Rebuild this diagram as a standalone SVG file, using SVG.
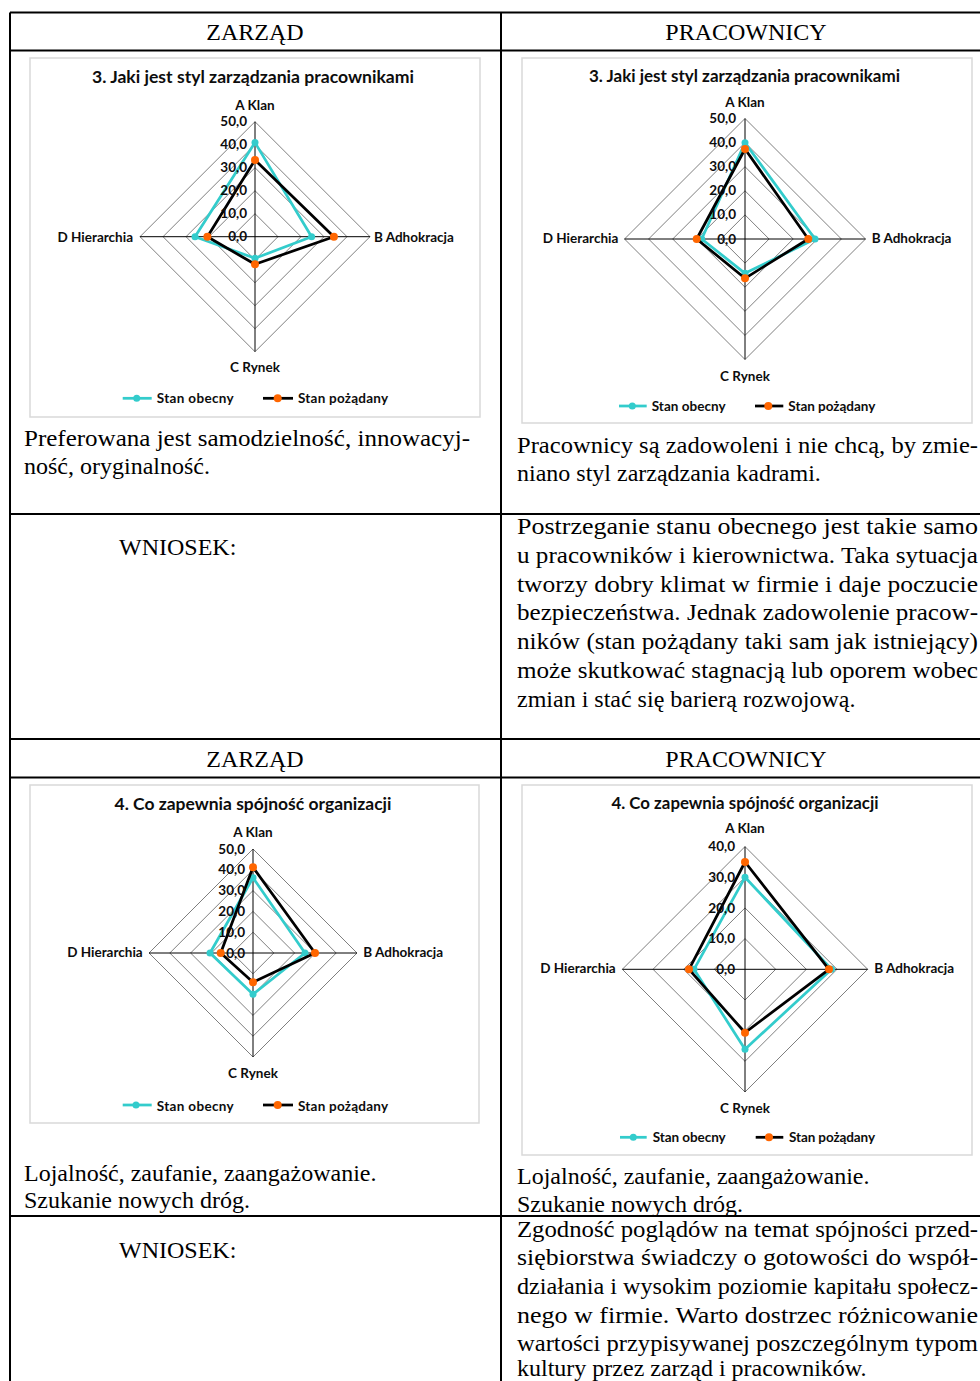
<svg xmlns="http://www.w3.org/2000/svg" width="980" height="1381" viewBox="0 0 980 1381">
<style>
.bg{fill:#fff}
.tl{stroke:#000;stroke-width:2;fill:none}
.tx{font-family:"Liberation Serif","Times New Roman",serif;font-size:24px;fill:#000}
.box{fill:#fff;stroke:#d9d9d9;stroke-width:1.5}
.ring{fill:none;stroke:#7f7f7f;stroke-width:1}
.spoke{fill:none;stroke:#000;stroke-width:1}
.s1{fill:none;stroke:#33cccc;stroke-width:2.75;stroke-linejoin:round}
.s2{fill:none;stroke:#000;stroke-width:2.75;stroke-linejoin:round}
.m1{fill:#33cccc}
.m2{fill:#ff6600}
.ct{font-family:Lato,"Liberation Sans",sans-serif;font-weight:bold;fill:#0d0d0d}
.ttl{font-size:17px}
.lab{font-size:13.5px}
.tk{font-size:13.5px;text-anchor:end}
.lg{font-size:13.5px}
.mid{text-anchor:middle}
.end{text-anchor:end}
</style>
<rect class="bg" x="0" y="0" width="980" height="1381"/>

<g id="table-lines">
<path class="tl" d="M10,12.5H980M10,50.5H980M10,514H980M10,739H980M10,777.5H980M10,1216H980M10,12.5V1381M501,12.5V1381"/>
</g>

<g id="header-1">
<text class="tx mid" x="255" y="40">ZARZĄD</text>
<text class="tx mid" x="746" y="40">PRACOWNICY</text>
</g>

<g id="chart-1">
<rect class="box" x="30" y="58" width="450" height="359"/>
<text class="ct ttl mid" x="253" y="83" textLength="322" lengthAdjust="spacingAndGlyphs">3. Jaki jest styl zarządzania pracownikami</text>
<polygon class="ring" points="255,213.7 278,236.7 255,259.7 232,236.7"/>
<polygon class="ring" points="255,190.7 301,236.7 255,282.7 209,236.7"/>
<polygon class="ring" points="255,167.7 324,236.7 255,305.7 186,236.7"/>
<polygon class="ring" points="255,144.7 347,236.7 255,328.7 163,236.7"/>
<polygon class="ring" points="255,121.7 370,236.7 255,351.7 140,236.7"/>
<path class="spoke" d="M255,121.7V351.7M140,236.7H370"/>
<polygon class="s1" points="255,142.6 311.6,236.7 255,258.3 195,236.7"/>
<g class="m1"><circle cx="255" cy="142.6" r="3.5"/><circle cx="311.6" cy="236.7" r="3.5"/><circle cx="255" cy="258.3" r="3.5"/><circle cx="195" cy="236.7" r="3.5"/></g>
<polygon class="s2" points="255,160.1 333.9,236.7 255,264.3 207.4,236.7"/>
<g class="m2"><circle cx="255" cy="160.1" r="4"/><circle cx="333.9" cy="236.7" r="4"/><circle cx="255" cy="264.3" r="4"/><circle cx="207.4" cy="236.7" r="4"/></g>
<text class="ct tk" x="247" y="241.2">0,0</text>
<text class="ct tk" x="247" y="218.2">10,0</text>
<text class="ct tk" x="247" y="195.2">20,0</text>
<text class="ct tk" x="247" y="172.2">30,0</text>
<text class="ct tk" x="247" y="149.2">40,0</text>
<text class="ct tk" x="247" y="126.2">50,0</text>
<text class="ct lab mid" x="255" y="110">A Klan</text>
<text class="ct lab" x="374" y="241.7">B Adhokracja</text>
<text class="ct lab mid" x="255" y="371.7">C Rynek</text>
<text class="ct lab end" x="133" y="241.7">D Hierarchia</text>
<path class="s1" d="M122.7,398.3H151.7"/><circle class="m1" cx="136.7" cy="398.3" r="3.5"/>
<text class="ct lg" x="156.7" y="403.3" textLength="77">Stan obecny</text>
<path class="s2" d="M263,398.3H293"/><circle class="m2" cx="277.7" cy="398.3" r="4"/>
<text class="ct lg" x="298" y="403.3" textLength="90">Stan pożądany</text>
</g>

<g id="chart-2">
<rect class="box" x="522" y="58" width="450" height="365"/>
<text class="ct ttl mid" x="744.5" y="81.7" textLength="311" lengthAdjust="spacingAndGlyphs">3. Jaki jest styl zarządzania pracownikami</text>
<polygon class="ring" points="745,214.9 769.1,239 745,263.1 720.9,239"/>
<polygon class="ring" points="745,190.8 793.2,239 745,287.2 696.8,239"/>
<polygon class="ring" points="745,166.7 817.3,239 745,311.3 672.7,239"/>
<polygon class="ring" points="745,142.6 841.4,239 745,335.4 648.6,239"/>
<polygon class="ring" points="745,118.5 865.5,239 745,359.5 624.5,239"/>
<path class="spoke" d="M745,118.5V359.5M624.5,239H865.5"/>
<polygon class="s1" points="745,142.7 815,239 745,273.3 701.7,239"/>
<g class="m1"><circle cx="745" cy="142.7" r="3.5"/><circle cx="815" cy="239" r="3.5"/><circle cx="745" cy="273.3" r="3.5"/><circle cx="701.7" cy="239" r="3.5"/></g>
<polygon class="s2" points="745,149 808.3,239 745,278.3 696.7,239"/>
<g class="m2"><circle cx="745" cy="149" r="4"/><circle cx="808.3" cy="239" r="4"/><circle cx="745" cy="278.3" r="4"/><circle cx="696.7" cy="239" r="4"/></g>
<text class="ct tk" x="736" y="243.5">0,0</text>
<text class="ct tk" x="736" y="219.4">10,0</text>
<text class="ct tk" x="736" y="195.3">20,0</text>
<text class="ct tk" x="736" y="171.2">30,0</text>
<text class="ct tk" x="736" y="147.1">40,0</text>
<text class="ct tk" x="736" y="123">50,0</text>
<text class="ct lab mid" x="745" y="106.7">A Klan</text>
<text class="ct lab" x="871.7" y="243">B Adhokracja</text>
<text class="ct lab mid" x="745" y="381">C Rynek</text>
<text class="ct lab end" x="618.3" y="243">D Hierarchia</text>
<path class="s1" d="M619,406H646.7"/><circle class="m1" cx="632.3" cy="406" r="3.5"/>
<text class="ct lg" x="651.7" y="411" textLength="74">Stan obecny</text>
<path class="s2" d="M755,406H783.3"/><circle class="m2" cx="768.3" cy="406" r="4"/>
<text class="ct lg" x="788.3" y="411" textLength="87">Stan pożądany</text>
</g>

<g id="row-2-text">
<text class="tx" x="24" y="446" textLength="446" lengthAdjust="spacingAndGlyphs">Preferowana jest samodzielność, innowacyj-</text>
<text class="tx" x="24" y="474">ność, oryginalność.</text>
<text class="tx" x="517" y="453" textLength="461" lengthAdjust="spacingAndGlyphs">Pracownicy są zadowoleni i nie chcą, by zmie-</text>
<text class="tx" x="517" y="481">niano styl zarządzania kadrami.</text>
</g>

<g id="row-3-text">
<text class="tx" x="119" y="555">WNIOSEK:</text>
<text class="tx" x="517" y="534" textLength="461" lengthAdjust="spacingAndGlyphs">Postrzeganie stanu obecnego jest takie samo</text>
<text class="tx" x="517" y="563" textLength="461" lengthAdjust="spacingAndGlyphs">u pracowników i kierownictwa. Taka sytuacja</text>
<text class="tx" x="517" y="592" textLength="461" lengthAdjust="spacingAndGlyphs">tworzy dobry klimat w firmie i daje poczucie</text>
<text class="tx" x="517" y="620" textLength="461" lengthAdjust="spacingAndGlyphs">bezpieczeństwa. Jednak zadowolenie pracow-</text>
<text class="tx" x="517" y="649" textLength="461" lengthAdjust="spacingAndGlyphs">ników (stan pożądany taki sam jak istniejący)</text>
<text class="tx" x="517" y="678" textLength="461" lengthAdjust="spacingAndGlyphs">może skutkować stagnacją lub oporem wobec</text>
<text class="tx" x="517" y="707">zmian i stać się barierą rozwojową.</text>
</g>

<g id="header-2">
<text class="tx mid" x="255" y="767">ZARZĄD</text>
<text class="tx mid" x="746" y="767">PRACOWNICY</text>
</g>

<g id="chart-3">
<rect class="box" x="30" y="785" width="449" height="338"/>
<text class="ct ttl mid" x="253" y="810" textLength="277" lengthAdjust="spacingAndGlyphs">4. Co zapewnia spójność organizacji</text>
<polygon class="ring" points="253,932.2 273.8,953 253,973.8 232.2,953"/>
<polygon class="ring" points="253,911.4 294.6,953 253,994.6 211.4,953"/>
<polygon class="ring" points="253,890.6 315.4,953 253,1015.4 190.6,953"/>
<polygon class="ring" points="253,869.8 336.2,953 253,1036.2 169.8,953"/>
<polygon class="ring" points="253,849 357,953 253,1057 149,953"/>
<path class="spoke" d="M253,849V1057M149,953H357"/>
<polygon class="s1" points="253,877.7 305,953 253,994.3 210,953"/>
<g class="m1"><circle cx="253" cy="877.7" r="3.5"/><circle cx="305" cy="953" r="3.5"/><circle cx="253" cy="994.3" r="3.5"/><circle cx="210" cy="953" r="3.5"/></g>
<polygon class="s2" points="253,867.3 315,953 253,982.3 220.7,953"/>
<g class="m2"><circle cx="253" cy="867.3" r="4"/><circle cx="315" cy="953" r="4"/><circle cx="253" cy="982.3" r="4"/><circle cx="220.7" cy="953" r="4"/></g>
<text class="ct tk" x="245" y="957.5">0,0</text>
<text class="ct tk" x="245" y="936.7">10,0</text>
<text class="ct tk" x="245" y="915.9">20,0</text>
<text class="ct tk" x="245" y="895.1">30,0</text>
<text class="ct tk" x="245" y="874.3">40,0</text>
<text class="ct tk" x="245" y="853.5">50,0</text>
<text class="ct lab mid" x="253" y="836.7">A Klan</text>
<text class="ct lab" x="363.3" y="957.3">B Adhokracja</text>
<text class="ct lab mid" x="253" y="1078.3">C Rynek</text>
<text class="ct lab end" x="142.7" y="957.3">D Hierarchia</text>
<path class="s1" d="M122.7,1105H151.7"/><circle class="m1" cx="136" cy="1105" r="3.5"/>
<text class="ct lg" x="156.7" y="1110.7" textLength="77">Stan obecny</text>
<path class="s2" d="M263,1105H293"/><circle class="m2" cx="277.7" cy="1105" r="4"/>
<text class="ct lg" x="298" y="1110.7" textLength="90">Stan pożądany</text>
</g>

<g id="chart-4">
<rect class="box" x="522" y="785" width="450" height="370"/>
<text class="ct ttl mid" x="745" y="809" textLength="267" lengthAdjust="spacingAndGlyphs">4. Co zapewnia spójność organizacji</text>
<polygon class="ring" points="745,938.6 775.7,969.3 745,1000 714.3,969.3"/>
<polygon class="ring" points="745,907.95 806.35,969.3 745,1030.65 683.65,969.3"/>
<polygon class="ring" points="745,877.3 837,969.3 745,1061.3 653,969.3"/>
<polygon class="ring" points="745,846.6 867.7,969.3 745,1092 622.3,969.3"/>
<path class="spoke" d="M745,846.6V1092M622.3,969.3H867.7"/>
<polygon class="s1" points="745,877.3 831.5,969.3 745,1049.3 694,969.3"/>
<g class="m1"><circle cx="745" cy="877.3" r="3.5"/><circle cx="831.5" cy="969.3" r="3.5"/><circle cx="745" cy="1049.3" r="3.5"/><circle cx="694" cy="969.3" r="3.5"/></g>
<polygon class="s2" points="745,862 829,969.3 745,1032.7 689,969.3"/>
<g class="m2"><circle cx="745" cy="862" r="4"/><circle cx="829" cy="969.3" r="4"/><circle cx="745" cy="1032.7" r="4"/><circle cx="689" cy="969.3" r="4"/></g>
<text class="ct tk" x="735" y="973.8">0,0</text>
<text class="ct tk" x="735" y="943.1">10,0</text>
<text class="ct tk" x="735" y="912.5">20,0</text>
<text class="ct tk" x="735" y="881.8">30,0</text>
<text class="ct tk" x="735" y="851.1">40,0</text>
<text class="ct lab mid" x="745" y="833.3">A Klan</text>
<text class="ct lab" x="874.3" y="973.3">B Adhokracja</text>
<text class="ct lab mid" x="745" y="1112.7">C Rynek</text>
<text class="ct lab end" x="615.7" y="973.3">D Hierarchia</text>
<path class="s1" d="M620,1137.3H646.7"/><circle class="m1" cx="633.3" cy="1137.3" r="3.5"/>
<text class="ct lg" x="652.7" y="1142.3" textLength="73">Stan obecny</text>
<path class="s2" d="M755.7,1137.3H783.3"/><circle class="m2" cx="769" cy="1137.3" r="4"/>
<text class="ct lg" x="789" y="1142.3" textLength="86">Stan pożądany</text>
</g>

<g id="row-4-text">
<text class="tx" x="24" y="1181">Lojalność, zaufanie, zaangażowanie.</text>
<text class="tx" x="24" y="1208">Szukanie nowych dróg.</text>
<text class="tx" x="517" y="1184">Lojalność, zaufanie, zaangażowanie.</text>
<text class="tx" x="517" y="1212">Szukanie nowych dróg.</text>
</g>

<g id="row-5-text">
<text class="tx" x="119" y="1258">WNIOSEK:</text>
<text class="tx" x="517" y="1237" textLength="461" lengthAdjust="spacingAndGlyphs">Zgodność poglądów na temat spójności przed-</text>
<text class="tx" x="517" y="1265" textLength="461" lengthAdjust="spacingAndGlyphs">siębiorstwa świadczy o gotowości do współ-</text>
<text class="tx" x="517" y="1294" textLength="461" lengthAdjust="spacingAndGlyphs">działania i wysokim poziomie kapitału społecz-</text>
<text class="tx" x="517" y="1323" textLength="461" lengthAdjust="spacingAndGlyphs">nego w firmie. Warto dostrzec różnicowanie</text>
<text class="tx" x="517" y="1351" textLength="461" lengthAdjust="spacingAndGlyphs">wartości przypisywanej poszczególnym typom</text>
<text class="tx" x="517" y="1376">kultury przez zarząd i pracowników.</text>
</g>
</svg>
